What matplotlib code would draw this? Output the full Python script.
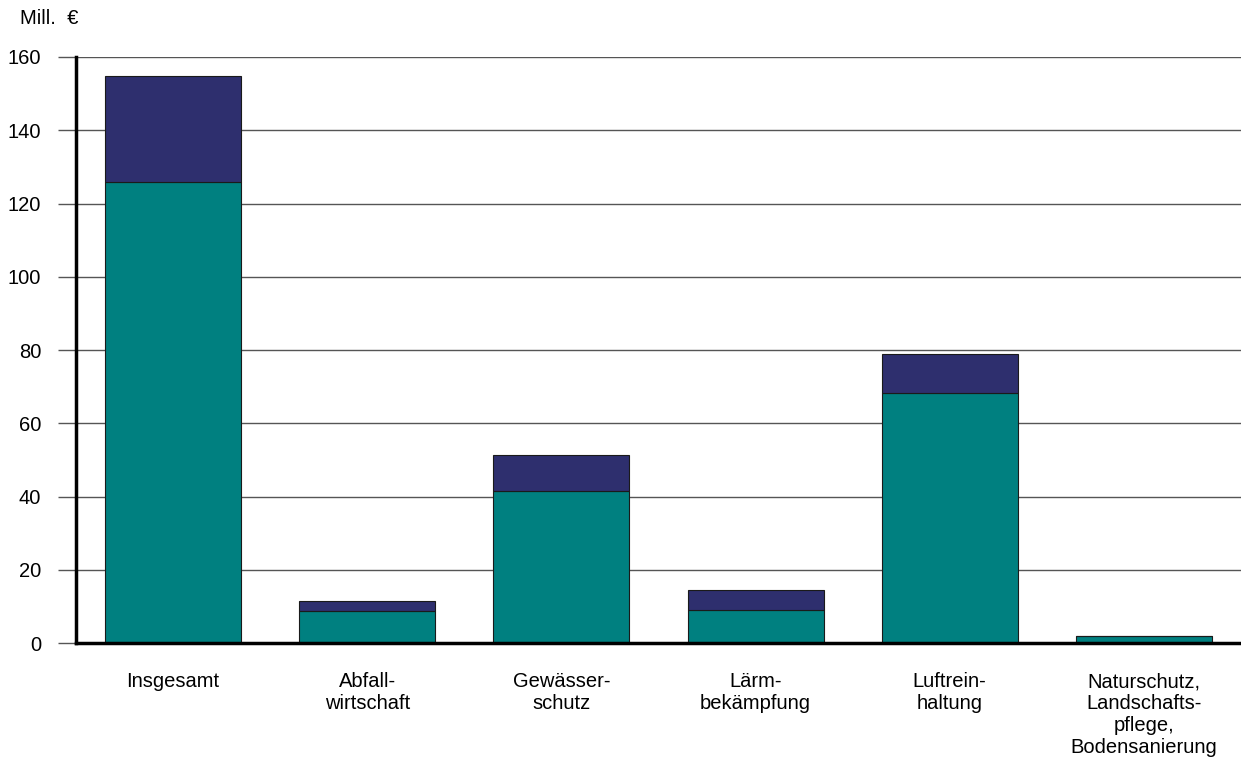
import numpy as np
import matplotlib.pyplot as plt

plt.rcParams['font.family'] = ['Liberation Sans', 'DejaVu Sans']

kategorien = ['Insgesamt', 'Abfall-\nwirtschaft', 'Gewässer-\nschutz', 'Lärm-\nbekämpfung',
              'Luftrein-\nhaltung', 'Naturschutz,\nLandschafts-\npflege,\nBodensanierung']
unten = [125.9, 8.7, 41.5, 9.0, 68.3, 1.9]
oben = [28.9, 2.8, 9.8, 5.5, 10.6, 0.0]
yticks = [0, 20, 40, 60, 80, 100, 120, 140, 160]

fig = plt.figure(figsize=(12.41, 7.6), dpi=100)
ax = fig.add_axes([0.0612, 0.1539, 0.9388, 0.7711])

x = np.arange(len(kategorien))
ax.bar(x, unten, width=0.7, color='#008080', edgecolor='#1a1a1a', linewidth=0.8, zorder=3)
ax.bar(x, oben, width=0.7, bottom=unten, color='#2e2f6e', edgecolor='#1a1a1a', linewidth=0.8, zorder=3)

ax.set_xlim(-0.5, len(kategorien) - 0.5)
ax.set_ylim(0, 160)
ax.set_yticks(yticks)
ax.yaxis.grid(True, color='#555555', linewidth=1, zorder=0)
ax.tick_params(axis='y', length=13, width=1, color='#555555', pad=12, labelsize=14.5)
ax.tick_params(axis='x', length=0, pad=21, labelsize=14.5)
ax.set_xticks(x)
ax.set_xticklabels(kategorien, linespacing=1.2, va='top')

for s in ['top', 'right']:
    ax.spines[s].set_visible(False)
ax.spines['left'].set_linewidth(2.5)
ax.spines['bottom'].set_linewidth(2.5)
ax.spines['left'].set_zorder(4)
ax.spines['bottom'].set_zorder(4)

fig.text(0.016, 0.988, 'Mill.  €', fontsize=14.5, va='top', ha='left')

fig.savefig('out.png', dpi=100)
